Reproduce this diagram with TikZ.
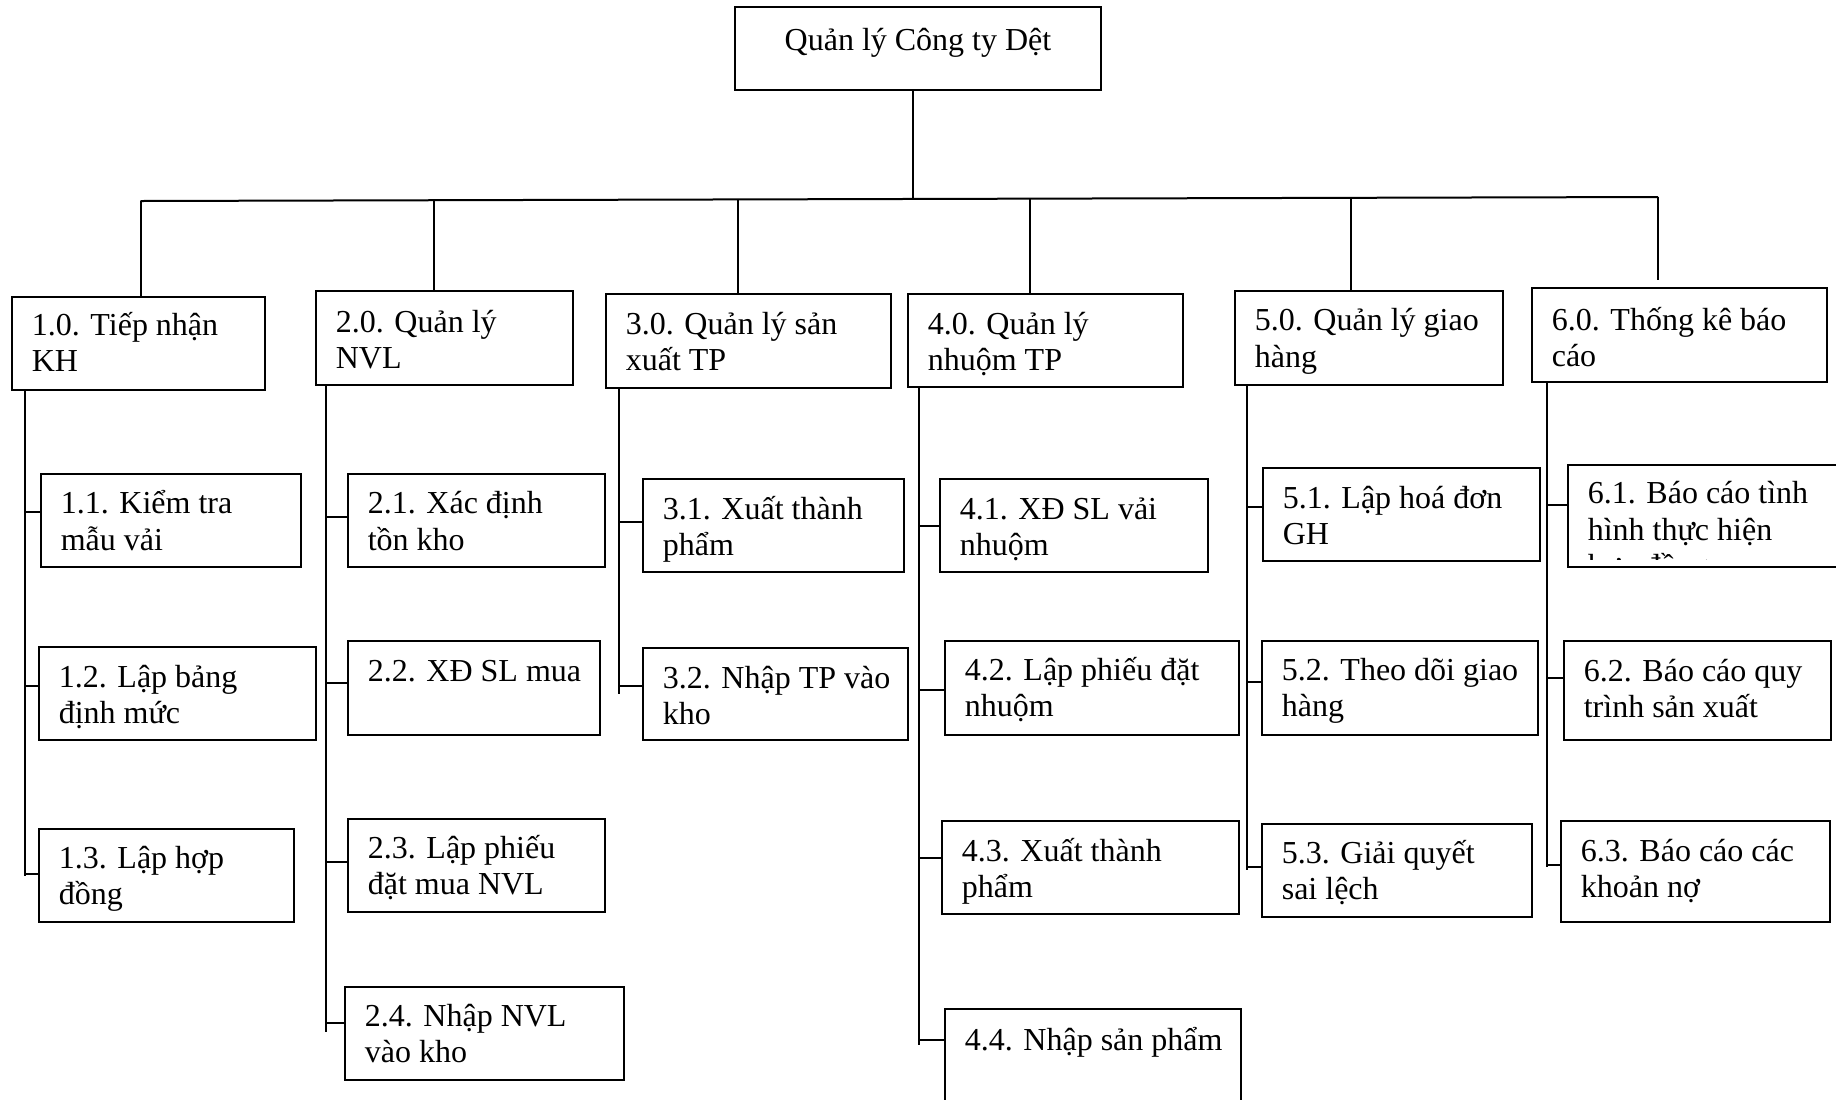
\documentclass[tikz,border=0pt]{standalone}
\usepackage{fontspec}
\setmainfont{Liberation Serif}
\usetikzlibrary{fit}
\newcommand\mlines[1]{{\lineskiplimit=-100pt\baselineskip=18.25pt\vtop{\halign{##\hfil\cr#1\crcr}}}}
\newcommand\mybx[7]{%
  \node[box, fit={(#2,#3) (#4,#5)}] (#1) {};
  \node[txt] (#1t) at ([xshift=9.9pt, yshift=-#6*0.5pt]#1.north west) {#7};}
\newcommand\myconn[3]{%
  \path ([yshift=-#3*0.5pt]#1.north west) coordinate (#1k);
  \draw[conn] (#1k -| #2) -- (#1k);}
\begin{document}
\begin{tikzpicture}[x=0.5pt,y=-0.5pt,line width=1pt,
  box/.style={draw=black, inner sep=0pt, line width=1pt},
  txt/.style={inner sep=0pt, anchor=base west, font=\fontsize{16}{18.25}\selectfont},
  conn/.style={draw=black, line width=1pt}]
\useasboundingbox (0,0) rectangle (1836,1099);
\clip (0,0) rectangle (1836,1099);
\fill[white] (0,0) rectangle (1836,1099);

% root
\node[box, fit={(735,7) (1101,90)}] (root) {};
\node[txt, anchor=base] (roott) at ([yshift=-44*0.5pt]root.north) {Quản lý Công ty Dệt};

% level 1
\mybx{b10}{12}{297}{265}{390}{39}{\mlines{1.0. Tiếp nhận\cr KH}}
\mybx{b20}{316}{290.5}{573}{384.5}{42.6}{\mlines{2.0. Quản lý\cr NVL}}
\mybx{b30}{606}{294}{890.5}{388}{41.4}{\mlines{3.0. Quản lý sản\cr xuất TP}}
\mybx{b40}{908}{294}{1183}{387}{41.4}{\mlines{4.0. Quản lý\cr nhuộm TP}}
\mybx{b50}{1235}{290.5}{1502.5}{384.5}{41.4}{\mlines{5.0. Quản lý giao\cr hàng}}
\mybx{b60}{1532}{287.5}{1827}{382}{43.8}{\mlines{6.0. Thống kê báo\cr cáo}}

% level 2
\mybx{c11}{41}{473.5}{300.5}{566.5}{41.4}{\mlines{1.1. Kiểm tra\cr mẫu vải}}
\mybx{c12}{39}{647}{316}{740}{41.4}{\mlines{1.2. Lập bảng\cr định mức}}
\mybx{c13}{39}{829}{294}{922}{40.3}{\mlines{1.3. Lập hợp\cr đồng}}
\mybx{c21}{348}{473.5}{605}{566.5}{41.4}{\mlines{2.1. Xác định\cr tồn kho}}
\mybx{c22}{348}{641}{600}{735}{41.4}{2.2. XĐ SL mua}
\mybx{c23}{348}{818.7}{605}{911.8}{40.3}{\mlines{2.3. Lập phiếu\cr đặt mua NVL}}
\mybx{c24}{345}{987}{624}{1080}{40.3}{\mlines{2.4. Nhập NVL\cr vào kho}}
\mybx{c31}{643}{478.7}{904}{571.8}{41.4}{\mlines{3.1. Xuất thành\cr phẩm}}
\mybx{c32}{643}{647.7}{908}{740.2}{41.4}{\mlines{3.2. Nhập TP vào\cr kho}}
\mybx{c41}{940}{478.7}{1208}{571.8}{41.4}{\mlines{4.1. XĐ SL vải\cr nhuộm}}
\mybx{c42}{945}{641}{1239}{735}{40.3}{\mlines{4.2. Lập phiếu đặt\cr nhuộm}}
\mybx{c43}{942}{821}{1239}{914}{41.4}{\mlines{4.3. Xuất thành\cr phẩm}}
\mybx{c44}{945}{1008.5}{1241}{1140}{42.6}{4.4. Nhập sản phẩm}
\mybx{c51}{1263}{468}{1539.5}{561}{41.4}{\mlines{5.1. Lập hoá đơn\cr GH}}
\mybx{c52}{1262}{641}{1537.5}{735}{40.3}{\mlines{5.2. Theo dõi giao\cr hàng}}
\mybx{c53}{1262}{824}{1532}{917}{40.3}{\mlines{5.3. Giải quyết\cr sai lệch}}
\node[box, fit={(1568,464.6) (1850,566.6)}] (c61) {};
\begin{scope}
  \clip (1560,460) rectangle (1840,559);
  \node[txt] (c61t) at ([xshift=9.9pt, yshift=-40.3*0.5pt]c61.north west) {\mlines{6.1. Báo cáo tình\cr hình thực hiện\cr hợp đồng}};
\end{scope}
\mybx{c62}{1564}{641}{1831}{740}{41.4}{\mlines{6.2. Báo cáo quy\cr trình sản xuất}}
\mybx{c63}{1561}{821}{1830}{922}{41.4}{\mlines{6.3. Báo cáo các\cr khoản nợ}}

% root to bar
\coordinate (j0) at (913,199);
\coordinate (d1) at (140.5,201);
\coordinate (d2) at (434.4,200.2);
\coordinate (d3) at (737.7,199.4);
\coordinate (d4) at (1030.4,198.6);
\coordinate (d5) at (1351.3,197.8);
\coordinate (d6) at (1658,197);
\draw[conn] (j0 |- root.south) -- (j0);
\draw[conn] (d1) -- (d6);
\draw[conn] (d1) -- (d1 |- b10.north);
\draw[conn] (d2) -- (d2 |- b20.north);
\draw[conn] (d3) -- (d3 |- b30.north);
\draw[conn] (d4) -- (d4 |- b40.north);
\draw[conn] (d5) -- (d5 |- b50.north);
\draw[conn, shorten >=3.25pt] (d6) -- (d6 |- b60.north);

% spines
\coordinate (s1) at ([xshift=6.9pt]b10.south west);
\coordinate (s2) at ([xshift=5.5pt]b20.south west);
\coordinate (s3) at ([xshift=7pt]b30.south west);
\coordinate (s4) at ([xshift=5.75pt]b40.south west);
\coordinate (s5) at ([xshift=6.5pt]b50.south west);
\coordinate (s6) at ([xshift=8pt]b60.south west);
\draw[conn] (s1) -- ++(0,484.7);
\draw[conn] (s2) -- ++(0,646);
\draw[conn] (s3) -- ++(0,305);
\draw[conn] (s4) -- ++(0,656.6);
\draw[conn] (s5) -- ++(0,484);
\draw[conn] (s6) -- ++(0,484);

% branches
\myconn{c11}{s1}{39}
\myconn{c12}{s1}{40}
\myconn{c13}{s1}{46}
\myconn{c21}{s2}{44.5}
\myconn{c22}{s2}{43}
\myconn{c23}{s2}{44.5}
\myconn{c24}{s2}{37}
\myconn{c31}{s3}{44.5}
\myconn{c32}{s3}{39}
\myconn{c41}{s4}{48}
\myconn{c42}{s4}{49.5}
\myconn{c43}{s4}{38}
\myconn{c44}{s4}{32.5}
\myconn{c51}{s5}{39.5}
\myconn{c52}{s5}{41.5}
\myconn{c53}{s5}{44}
\myconn{c61}{s6}{41.5}
\myconn{c62}{s6}{38}
\myconn{c63}{s6}{45}
\end{tikzpicture}
\end{document}
